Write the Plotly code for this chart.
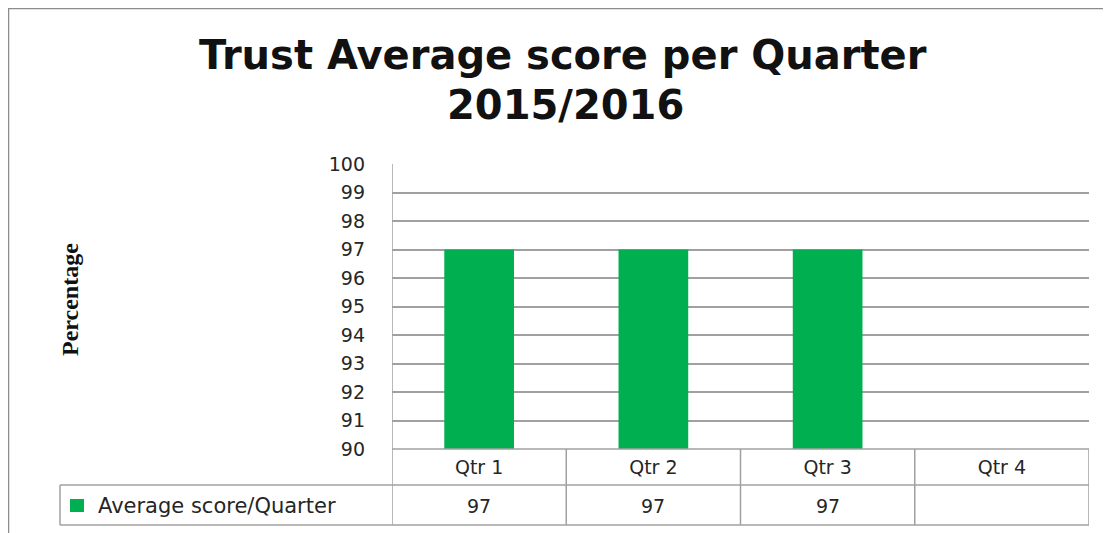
import plotly.graph_objects as go

quarters = ["Qtr 1", "Qtr 2", "Qtr 3", "Qtr 4"]
scores = [97, 97, 97, None]
series_name = "Average score/Quarter"
title_line1 = "Trust Average score per Quarter"
title_line2 = "2015/2016"
y_title = "Percentage"

OFF = 8  # page body margin
W, H = 1111 - OFF, 533 - OFF
# plot area in screen px
L, R, T, B = 392, 1089, 164, 449
pw, ph = R - L, B - T

def px(x):
    return (x - L) / pw

def py(y):
    return (B - y) / ph

green = "#00B050"
grid = "#A0A0A0"
txt = "#262626"
tick_font = dict(family="DejaVu Sans", size=19, color=txt)

fig = go.Figure()
fig.add_trace(go.Bar(x=quarters, y=scores, marker=dict(color=green, line=dict(width=0)),
                     width=0.4, name=series_name, showlegend=False))

fig.update_layout(
    width=W, height=H,
    margin=dict(l=L - OFF, r=W - (R - OFF), t=T - OFF, b=H - (B - OFF)),
    paper_bgcolor="white", plot_bgcolor="white",
    bargap=0.6,
)
fig.update_yaxes(range=[90, 100], dtick=1, tick0=90, showgrid=True, gridcolor=grid, gridwidth=1.5,
                 zeroline=False, showline=False, tickfont=tick_font, ticks="", ticklabelstandoff=26)
fig.update_xaxes(showgrid=False, showline=False, ticks="", tickfont=tick_font,
                 ticklabelstandoff=5, range=[-0.5, 3.5])

ROW1, ROW2 = 485, 525
shapes = []
line = dict(color=grid, width=1.5)
# outer chart border
shapes.append(dict(type="rect", xref="paper", yref="paper", x0=px(8.5), x1=px(1130), y0=py(560), y1=py(8.5),
                   line=dict(color="#8C8C8C", width=1.5)))
# y axis line extending through table
shapes.append(dict(type="line", xref="x", yref="paper", x0=-0.5, x1=-0.5, y0=py(ROW2), y1=1, line=line))
# table horizontal lines
shapes.append(dict(type="line", xref="x", yref="paper", x0=-0.5, x1=3.5, y0=0, y1=0, line=line))
shapes.append(dict(type="line", xref="paper", yref="paper", x0=px(60), x1=1, y0=py(ROW1), y1=py(ROW1), line=line))
shapes.append(dict(type="line", xref="paper", yref="paper", x0=px(60), x1=1, y0=py(ROW2), y1=py(ROW2), line=line))
# legend cell left edge
shapes.append(dict(type="line", xref="paper", yref="paper", x0=px(60), x1=px(60), y0=py(ROW2), y1=py(ROW1), line=line))
# table vertical separators
for i in range(len(quarters)):
    xb = i + 0.5
    shapes.append(dict(type="line", xref="x", yref="paper", x0=xb, x1=xb, y0=py(ROW2), y1=0, line=line))
# legend key square
shapes.append(dict(type="rect", xref="paper", yref="paper", x0=px(70), x1=px(84), y0=py(512), y1=py(499),
                   fillcolor=green, line=dict(width=0)))

annotations = []
title_font = dict(family="DejaVu Sans", size=40, color="#111", weight="bold")
annotations.append(dict(text=title_line1, xref="paper", yref="paper", x=px(563), y=py(55),
                        showarrow=False, xanchor="center", yanchor="middle", font=title_font))
annotations.append(dict(text=title_line2, xref="paper", yref="paper", x=px(565), y=py(105),
                        showarrow=False, xanchor="center", yanchor="middle", font=title_font))
annotations.append(dict(text=y_title, xref="paper", yref="paper", x=px(70), y=py(300), textangle=-90,
                        showarrow=False, xanchor="center", yanchor="middle",
                        font=dict(family="Liberation Serif", size=24, color="#111", weight="bold")))
annotations.append(dict(text=series_name, xref="paper", yref="paper", x=px(96), y=py(506),
                        showarrow=False, xanchor="left", yanchor="middle",
                        font=dict(family="DejaVu Sans", size=21, color=txt)))
for q, v in zip(quarters, scores):
    if v is not None:
        annotations.append(dict(text=str(v), xref="x", yref="paper", x=q, y=py(506),
                                showarrow=False, xanchor="center", yanchor="middle", font=tick_font))

fig.update_layout(shapes=shapes, annotations=annotations)
fig.write_html("out.html")
